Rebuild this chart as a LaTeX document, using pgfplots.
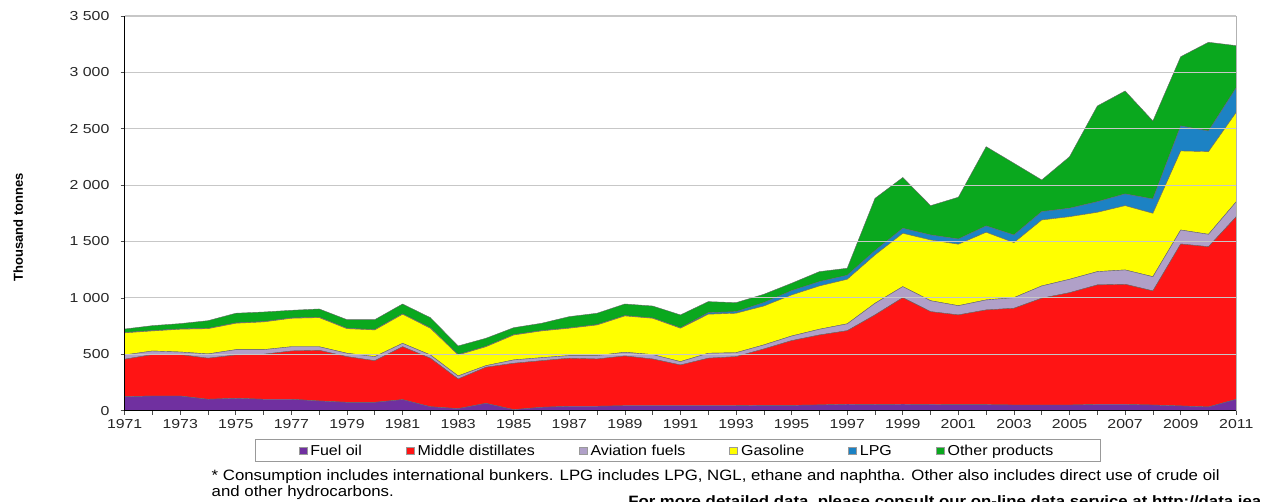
\documentclass[border=0pt]{standalone}
\usepackage{pgfplots}
\pgfplotsset{compat=1.18}
\usepackage{pgfplotstable}
\usepackage{fontspec}
\setmainfont[FakeStretch=1.22]{Liberation Sans}
\newfontfamily\labelfont{Liberation Sans}
\newfontfamily\legfont[FakeStretch=1.11]{Liberation Sans}
\newfontfamily\footfont[FakeStretch=1.12]{Liberation Sans}
\definecolor{cFuel}{HTML}{7030A0}
\definecolor{cMid}{HTML}{FF1414}
\definecolor{cAvi}{HTML}{B0A0C8}
\definecolor{cGas}{HTML}{FFFF00}
\definecolor{cLPG}{HTML}{1C82C4}
\definecolor{cOth}{HTML}{0AA81E}
\pgfplotstableread{
year fuel mid avi gas lpg oth
1971 124 332 38 196 3 31
1972 130 367 32 178 3 44
1973 130 367 23 202 3 47
1974 101 364 38 224 3 68
1975 110 384 47 234 3 86
1976 101 399 41 246 3 85
1977 101 428 38 252 3 68
1978 86 449 32 258 3 74
1979 74 405 30 218 3 77
1980 74 369 36 237 3 88
1981 98 469 30 258 3 88
1982 35 430 29 237 3 91
1983 18 263 27 186 3 77
1984 65 320 14 168 3 72
1985 9 411 30 221 3 62
1986 30 413 27 237 3 65
1987 39 426 23 243 3 100
1988 39 419 30 272 3 101
1989 44 441 33 322 3 103
1990 44 414 39 322 3 106
1991 44 361 30 296 3 115
1992 44 421 44 346 14 98
1993 44 435 35 350 14 80
1994 47 500 36 345 30 74
1995 47 574 41 364 38 66
1996 51 620 51 384 38 89
1997 57 652 61 395 35 63
1998 55 794 103 429 38 464
1999 57 945 98 473 44 451
2000 55 823 97 539 44 260
2001 53 796 82 545 46 371
2002 53 840 89 600 56 703
2003 50 858 94 488 68 636
2004 50 947 109 585 74 281
2005 50 996 119 555 75 457
2006 55 1060 118 526 94 849
2007 55 1066 127 570 104 913
2008 50 1012 126 562 127 692
2009 42 1436 124 701 222 614
2010 33 1421 110 733 183 787
2011 101 1619 133 793 218 373
}\datatable
\begin{document}
\fontsize{9.75pt}{11.7pt}\selectfont
\begin{tikzpicture}
\useasboundingbox (0,0) rectangle (949.5pt,376.5pt);
\begin{axis}[
  scale only axis, width=833.7pt, height=296pt,
  at={(93.5pt,68.5pt)}, anchor=south west,
  xmin=1971, xmax=2011, ymin=0, ymax=3500,
  xtick={1971,1973,...,2011}, minor x tick num=1,
  ytick={0,500,...,3500},
  ymajorgrids, grid style={black!22, line width=0.8pt},
  axis x line*=bottom, axis y line*=left,
  axis line style={black, line width=0.6pt},
  tick align=outside, major tick length=3pt, minor tick length=3pt,
  tick style={black!70, line width=0.5pt},
  xticklabel style={/pgf/number format/1000 sep={}, /pgf/number format/assume math mode=true, text=black!85},
  yticklabel style={/pgf/number format/.cd, 1000 sep={\ }, assume math mode=true, /tikz/.cd, xshift=-5pt, text=black!85},
  stack plots=y, area style,
  every axis plot/.append style={draw=black!60, line width=0.3pt},
  legend columns=6,
  legend image code/.code={\draw[#1, draw=gray!80, line width=0.3pt] (0pt,-2.8pt) rectangle (6pt,2.8pt);},
  legend style={at={(0.1562,-0.1021)}, anchor=west, draw=none, fill=none, inner sep=0pt,
    font=\legfont\fontsize{10.8pt}{13pt}\selectfont,
    nodes={inner sep=0pt},
    /tikz/every odd column/.append style={column sep=2.5pt},
    /tikz/every even column/.append style={column sep=33pt}},
  after end axis/.code={\draw[black!30, line width=0.8pt] (rel axis cs:1,0) -- (rel axis cs:1,1);},
]
\addplot[fill=cFuel] table[x=year, y=fuel] {\datatable} \closedcycle;
\addlegendentry{Fuel oil}
\addplot[fill=cMid] table[x=year, y=mid] {\datatable} \closedcycle;
\addlegendentry{Middle distillates}
\addplot[fill=cAvi] table[x=year, y=avi] {\datatable} \closedcycle;
\addlegendentry{Aviation fuels}
\addplot[fill=cGas] table[x=year, y=gas] {\datatable} \closedcycle;
\addlegendentry{Gasoline}
\addplot[fill=cLPG] table[x=year, y=lpg] {\datatable} \closedcycle;
\addlegendentry{LPG}
\addplot[fill=cOth] table[x=year, y=oth] {\datatable} \closedcycle;
\addlegendentry{Other products}
\end{axis}
\node[rotate=90, font=\labelfont\bfseries\fontsize{9.75pt}{11.7pt}\selectfont] at (13.7pt,206pt) {Thousand tonnes};
\draw[black!40, line width=0.5pt] (191.25pt,30.2pt) rectangle (825pt,46.9pt);
\begin{scope}[font=\footfont\fontsize{11.25pt}{13.5pt}\selectfont]
\node[anchor=base west, inner sep=0pt] at (158.6pt,16pt) {* Consumption includes international bunkers. LPG includes LPG, NGL, ethane and naphtha. Other also includes direct use of crude oil};
\node[anchor=base west, inner sep=0pt] at (158.6pt,3.75pt) {and other hydrocarbons.};
\node[anchor=base west, inner sep=0pt, font=\footfont\bfseries\fontsize{11.25pt}{13.5pt}\selectfont] at (471pt,-3.75pt) {For more detailed data, please consult our on-line data service at http://data.iea.org.};
\end{scope}
\end{tikzpicture}
\end{document}
